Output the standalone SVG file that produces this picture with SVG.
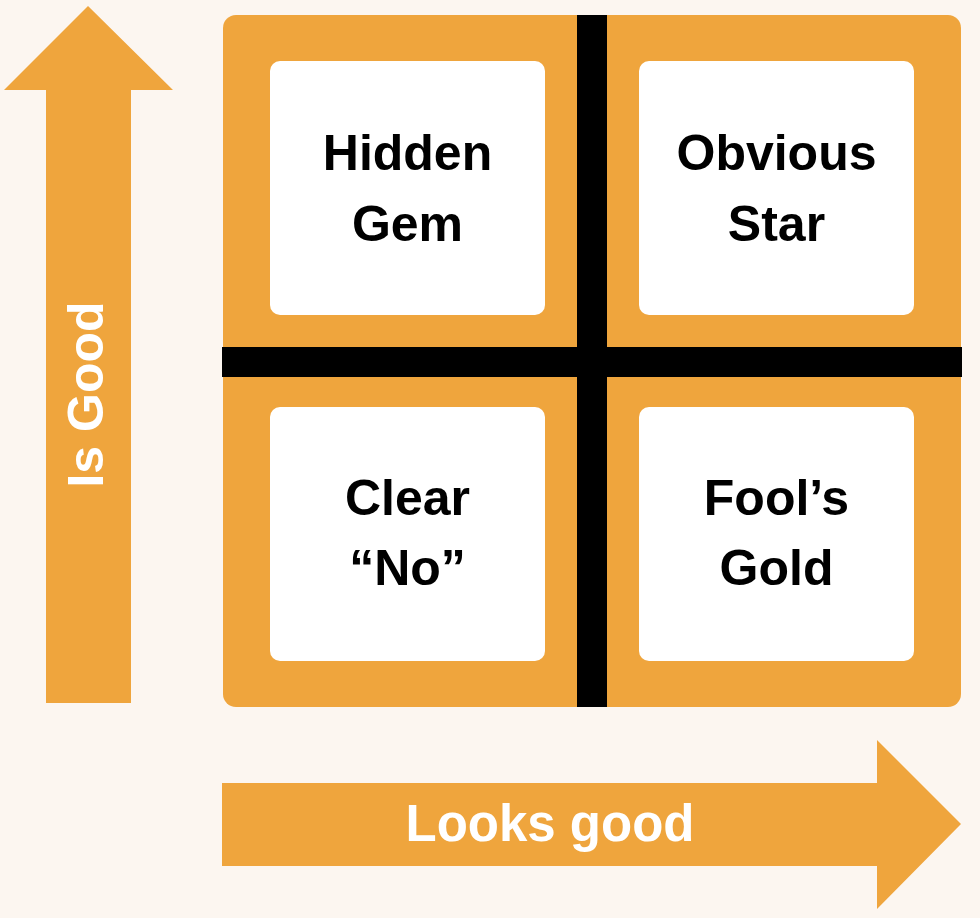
<svg xmlns="http://www.w3.org/2000/svg" width="980" height="918" viewBox="0 0 980 918">
<style>
.orange{fill:#EFA53D}
.box{fill:#FFFFFF}
.bar{fill:#000000}
.lbl{font-family:"Liberation Sans",Arial,sans-serif;font-weight:bold;font-size:50px;fill:#000;text-anchor:middle}
.axis{font-family:"Liberation Sans",Arial,sans-serif;font-weight:bold;font-size:51px;fill:#FFFFFF;text-anchor:middle}
</style>
<rect x="0" y="0" width="980" height="918" fill="#FCF6F0"/>
<g id="frame">
<rect class="orange" x="223" y="15" width="738" height="692" rx="13"/>
</g>
<g id="hidden-gem">
<rect class="box" x="270" y="61" width="275" height="254" rx="10"/>
<text class="lbl" x="407.5" y="170">Hidden</text>
<text class="lbl" x="407.5" y="241">Gem</text>
</g>
<g id="obvious-star">
<rect class="box" x="639" y="61" width="275" height="254" rx="10"/>
<text class="lbl" x="776.5" y="170">Obvious</text>
<text class="lbl" x="776.5" y="241">Star</text>
</g>
<g id="clear-no">
<rect class="box" x="270" y="407" width="275" height="254" rx="10"/>
<text class="lbl" x="407.5" y="515">Clear</text>
<text class="lbl" x="407.5" y="585">“No”</text>
</g>
<g id="fools-gold">
<rect class="box" x="639" y="407" width="275" height="254" rx="10"/>
<text class="lbl" x="776.5" y="515">Fool’s</text>
<text class="lbl" x="776.5" y="585">Gold</text>
</g>
<g id="dividers">
<rect class="bar" x="577" y="15" width="30" height="692"/>
<rect class="bar" x="222" y="347" width="740" height="30"/>
</g>
<g id="axis-y">
<polygon class="orange" points="88,6 173,90 131,90 131,703 46,703 46,90 4,90"/>
<text class="axis" transform="translate(103,394.5) rotate(-90)" style="font-size:50px">Is Good</text>
</g>
<g id="axis-x">
<polygon class="orange" points="222,783 877,783 877,740 961,824 877,909 877,866 222,866"/>
<text class="axis" x="550" y="841">Looks good</text>
</g>
</svg>
